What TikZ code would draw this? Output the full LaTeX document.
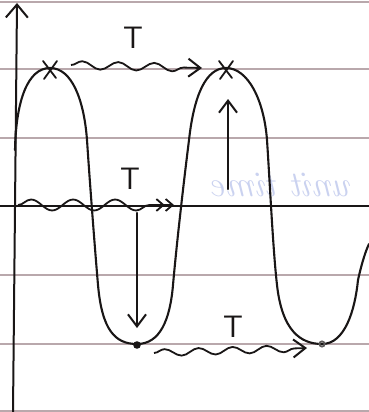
\documentclass[tikz,border=0pt]{standalone}
\usetikzlibrary{arrows.meta,decorations.pathmorphing}
\definecolor{rule}{RGB}{185,168,172}
\definecolor{ink}{RGB}{25,22,22}
\definecolor{bleed}{RGB}{185,195,235}
\tikzset{
  ruled/.style={draw=rule, line width=1.2pt},
  curve/.style={draw=ink, line width=2.1pt, line cap=round, line join=round},
  axisline/.style={draw=ink, line width=2pt},
  barb/.style={-{Straight Barb[length=12pt,width=18pt,line width=2pt]}},
  wavy/.style={draw=ink, line width=1.8pt, decorate,
     decoration={snake, amplitude=4pt, segment length=36pt, post length=8pt}},
  tlabel/.style={font=\fontsize{31}{31}\selectfont\sffamily, text=ink, inner sep=0pt},
  cross/.style={draw=ink, line width=1.8pt, line cap=round}
}
\begin{document}
\begin{tikzpicture}[x=1pt,y=-1pt]
\useasboundingbox[fill=white] (0,0) rectangle (369,412);
% ruled paper lines
\foreach \yy in {2,69,138,275,344,411}{
  \draw[ruled] (0,\yy) -- (369,\yy);
}
% faint bleed-through text
\node[text=bleed, opacity=0.75, xscale=-1, font=\fontsize{36}{36}\selectfont\itshape, inner sep=0pt, anchor=base] (bleedtxt) at (283,196) {unit time};
% time axis
\coordinate (tl) at (0,206);
\coordinate (tr) at (369,206);
\draw[axisline] (tl) -- (tr);
% vertical axis
\coordinate (yb) at (13,412);
\coordinate (yt) at (17,3);
\draw[axisline, -{Straight Barb[length=13pt,width=22pt,line width=2pt]}] (yb) -- (yt);
% wave
\draw[curve] (15,150) .. controls (16,100) and (28,68) .. (50,68)
 .. controls (72,68) and (84,100) .. (87,140)
 .. controls (90,185) and (95,250) .. (98,285)
 .. controls (102,330) and (115,344) .. (137,344)
 .. controls (160,344) and (170,320) .. (173,285)
 .. controls (177,240) and (184,180) .. (189,140)
 .. controls (194,95) and (206,68) .. (226,68)
 .. controls (248,68) and (264,100) .. (267,140)
 .. controls (270,185) and (273,250) .. (277,285)
 .. controls (282,330) and (300,344) .. (322,344)
 .. controls (345,344) and (355,310) .. (358,280)
 .. controls (362,262) and (366,250) .. (369,244);
% crests
\coordinate (c1) at (50,69);
\coordinate (c2) at (226,69);
\draw[cross] (43,61) -- (56,78) (57,61) -- (44,79);
\draw[cross] (219,61) -- (232,78) (233,61) -- (220,79);
% troughs
\coordinate (d1) at (137,345);
\coordinate (d2) at (322,344);
\fill[ink] (d1) circle (3.8);
\draw[ink!70, line width=1.8pt] (d2) circle (2.6);
% period arrows
\coordinate (a1s) at (71,65);
\coordinate (a1e) at (202,68);
\draw[wavy, barb] (a1s) -- (a1e);
\node[tlabel] (T1) at (133,38) {T};
\coordinate (a2s) at (18,205);
\coordinate (a2e) at (174,205);
\draw[wavy, -{Straight Barb[length=7pt,width=12pt,line width=1.8pt]Straight Barb[length=7pt,width=12pt,line width=1.8pt]}, decoration={snake, amplitude=5.5pt, segment length=42pt, post length=10pt}] (a2s) -- (a2e);
\node[tlabel] (T2) at (130,179) {T};
\coordinate (a3s) at (154,353);
\coordinate (a3e) at (307,348);
\draw[wavy, barb, decoration={snake, amplitude=3.5pt, segment length=34pt, post length=8pt}] (a3s) -- (a3e);
\node[tlabel] (T3) at (233,327) {T};
% amplitude arrows
\coordinate (v1s) at (137,213);
\coordinate (v1e) at (137,328);
\draw[curve, barb] (v1s) -- (v1e);
\coordinate (v2s) at (228,189);
\coordinate (v2e) at (228,99);
\draw[curve, barb] (v2s) -- (v2e);
\end{tikzpicture}
\end{document}
